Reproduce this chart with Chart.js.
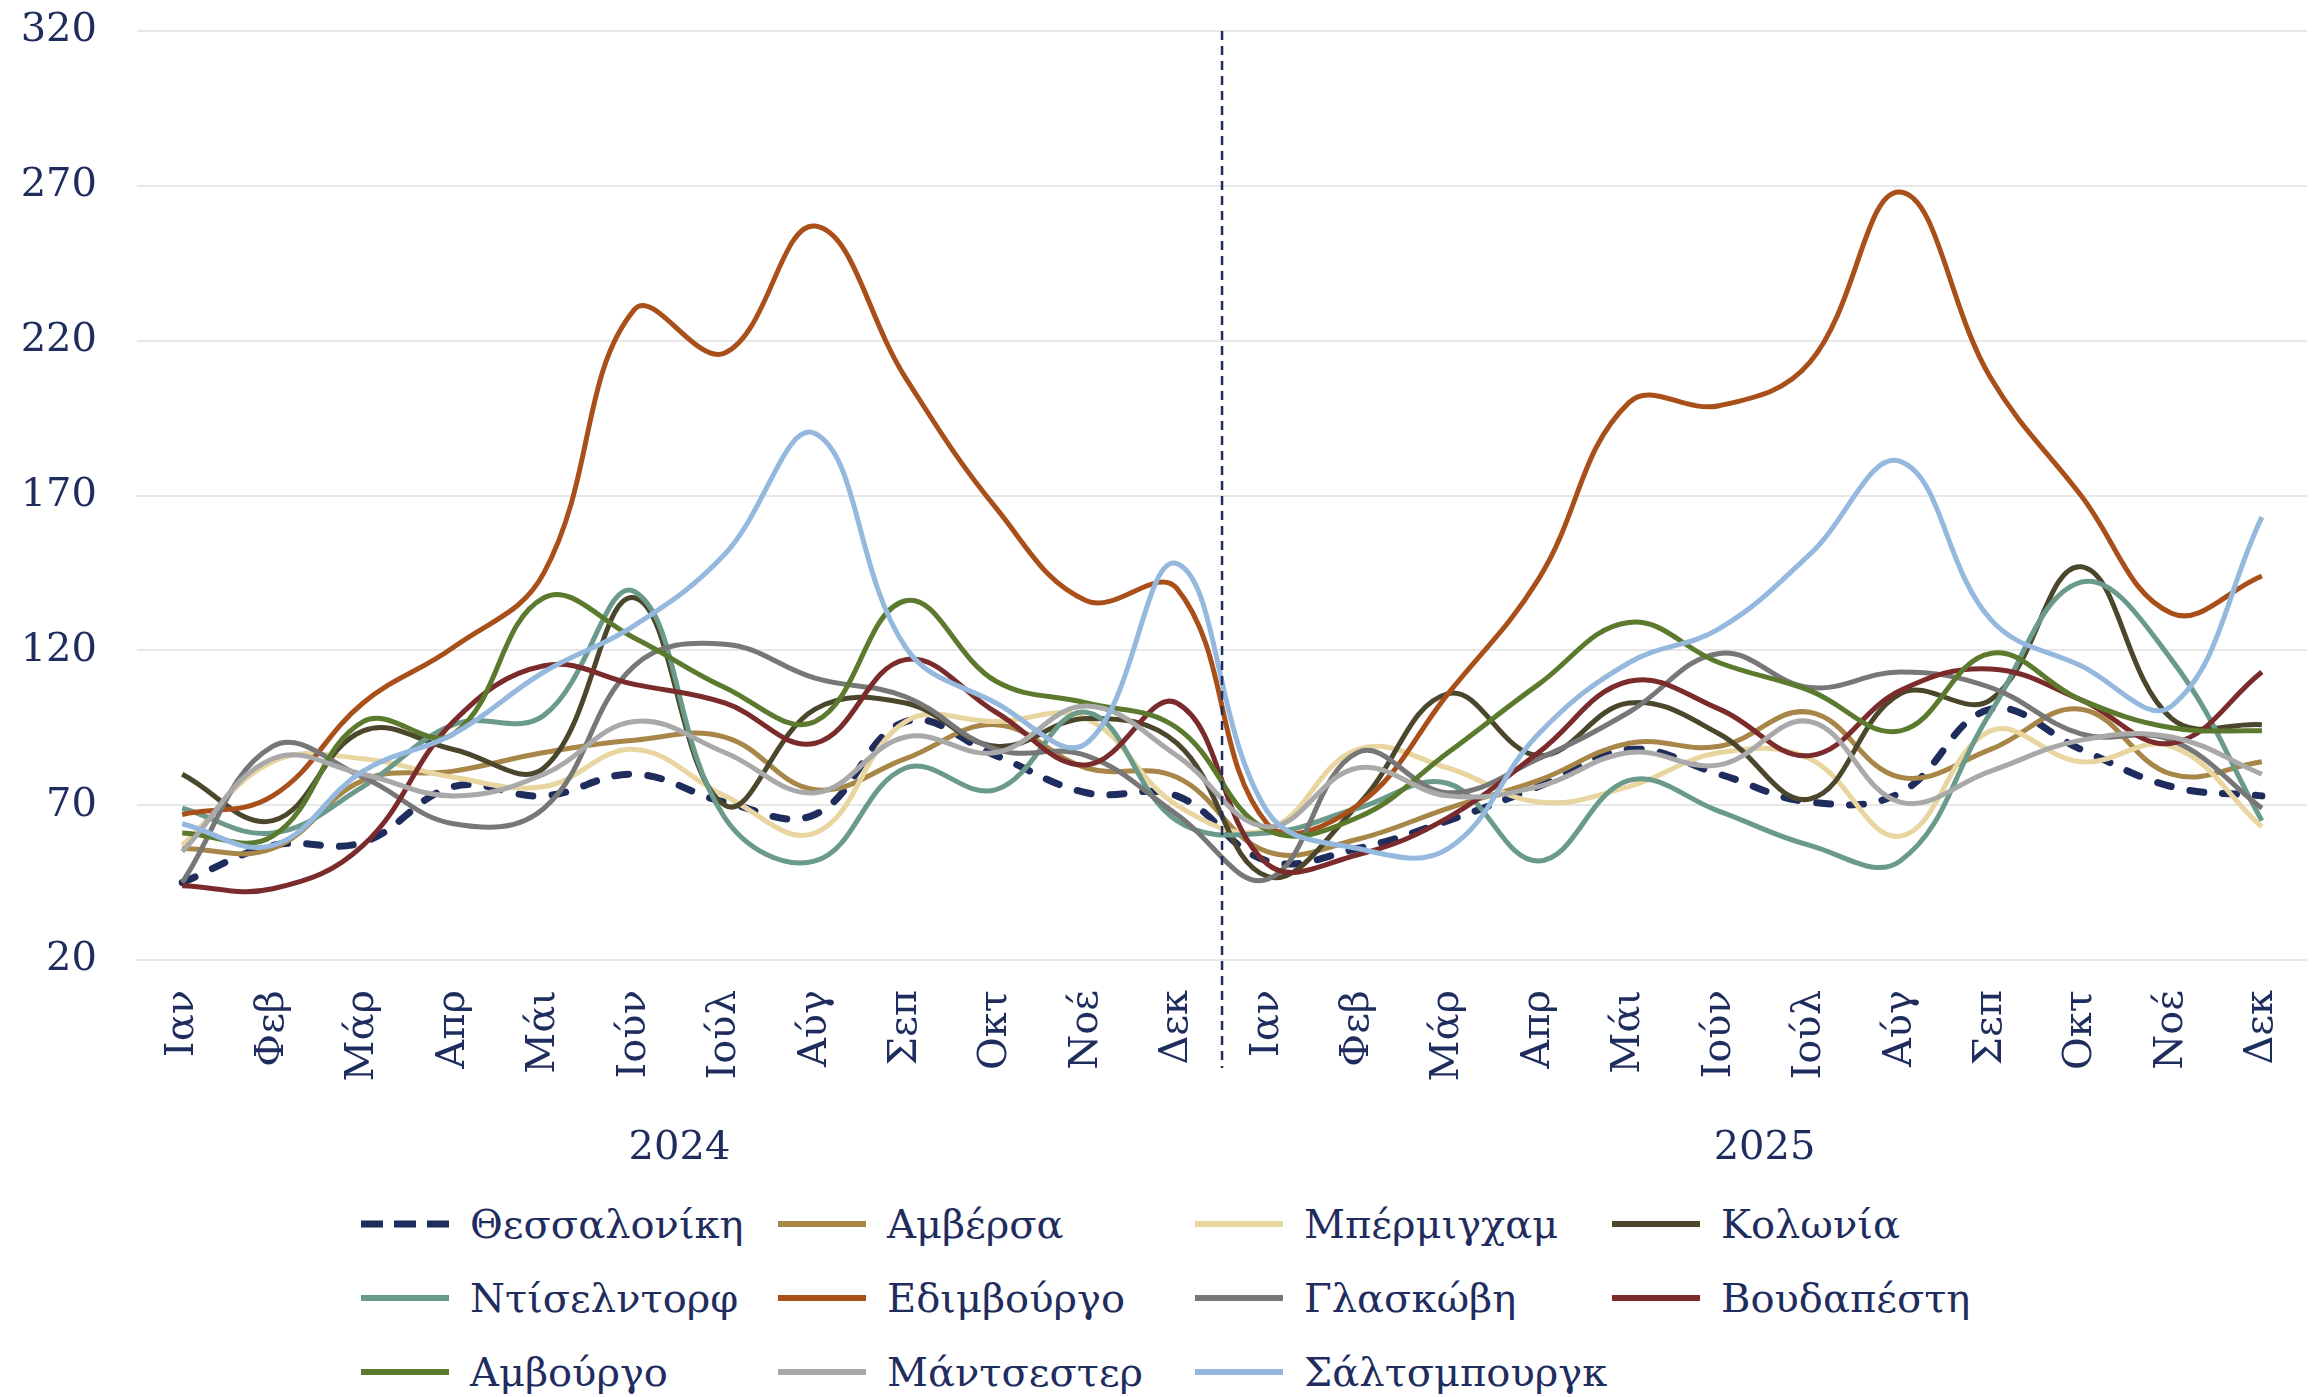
<!DOCTYPE html>
<html lang="el">
<head>
<meta charset="utf-8">
<title>Πόλεις 2024–2025</title>
<script src="https://cdn.jsdelivr.net/npm/chart.js@4.4.1/dist/chart.umd.min.js"></script>
<style>
  html, body { margin: 0; padding: 0; background: #fff; overflow: hidden; }
  body { width: 2313px; height: 1397px; position: relative; }
  #wrap { position: absolute; left: 0; top: -33px; width: 2340px; height: 1208px; }
  #legend {
    position: absolute; left: 361px; top: 1187px;
    display: grid; grid-template-columns: repeat(4, 417px); grid-auto-rows: 74px;
    font-family: 'DejaVu Serif', serif; font-size: 40px; color: #1f2d5e;
  }
  .item { display: flex; align-items: center; white-space: nowrap; }
  .item svg { margin-right: 21px; flex: none; }
</style>
</head>
<body>
<div id="wrap"><canvas id="chart"></canvas></div>
<div id="legend"></div>
<script>
// Month labels for two years (Jan 2024 – Dec 2025)
const months = ['Ιαν', 'Φεβ', 'Μάρ', 'Απρ', 'Μάι', 'Ιούν', 'Ιούλ', 'Αύγ', 'Σεπ', 'Οκτ', 'Νοέ', 'Δεκ',
                'Ιαν', 'Φεβ', 'Μάρ', 'Απρ', 'Μάι', 'Ιούν', 'Ιούλ', 'Αύγ', 'Σεπ', 'Οκτ', 'Νοέ', 'Δεκ'];
const years = ['2024', '2025'];
const yMin = 20;
const yMax = 320;
const yStep = 50;

// Monthly index per city
const thessaloniki = [45, 57, 58, 76, 73, 80, 71, 67, 97, 86, 74, 73, 52, 56, 65, 76, 88, 80, 71, 74, 101, 88, 76, 73];
const antwerp      = [56, 56, 78, 81, 87, 91, 92, 75, 85, 96, 82, 79, 55, 59, 69, 78, 90, 89, 100, 79, 88, 101, 80, 84];
const birmingham   = [57, 84, 85, 79, 76, 88, 73, 61, 97, 97, 98, 70, 62, 88, 82, 71, 76, 87, 85, 60, 94, 84, 89, 63];
const cologne      = [80, 65, 94, 88, 82, 137, 70, 101, 103, 89, 98, 90, 47, 70, 106, 86, 103, 93, 72, 106, 104, 147, 98, 96];
const dusseldorf   = [69, 61, 76, 96, 99, 139, 66, 52, 82, 75, 100, 65, 61, 69, 77, 52, 78, 68, 57, 52, 100, 142, 117, 65];
const edinburgh    = [67, 73, 103, 121, 145, 230, 216, 257, 208, 166, 136, 140, 64, 70, 106, 143, 200, 199, 213, 268, 208, 170, 132, 144];
const glasgow      = [45, 89, 79, 64, 69, 115, 122, 111, 105, 88, 86, 67, 46, 87, 74, 85, 100, 119, 108, 113, 108, 93, 91, 69];
const budapest     = [44, 43, 57, 97, 115, 109, 103, 90, 117, 100, 83, 103, 51, 54, 66, 87, 110, 101, 86, 107, 114, 104, 90, 113];
const hamburg      = [61, 60, 97, 93, 137, 124, 108, 97, 136, 110, 103, 95, 62, 66, 87, 109, 129, 116, 107, 94, 119, 104, 95, 94];
const manchester   = [55, 85, 80, 73, 80, 97, 87, 74, 92, 87, 102, 86, 63, 82, 73, 76, 87, 83, 97, 71, 81, 91, 92, 80];
const salzburg     = [64, 57, 81, 93, 113, 128, 151, 190, 121, 103, 90, 148, 68, 56, 56, 93, 116, 127, 151, 181, 130, 115, 102, 163];

const cities = ['Θεσσαλονίκη', 'Αμβέρσα', 'Μπέρμιγχαμ', 'Κολωνία', 'Ντίσελντορφ', 'Εδιμβούργο',
                'Γλασκώβη', 'Βουδαπέστη', 'Αμβούργο', 'Μάντσεστερ', 'Σάλτσμπουργκ'];
const series = [thessaloniki, antwerp, birmingham, cologne, dusseldorf, edinburgh,
                glasgow, budapest, hamburg, manchester, salzburg];
const colors = ['#1f2d5e', '#a78647', '#e8d5a0', '#4b472c', '#6a9b8a', '#a9501a',
                '#777777', '#7b2b2b', '#5b7a2e', '#a9a9a9', '#94b8de'];

const navy = '#1f2d5e';
const font = { family: "'DejaVu Serif', serif", size: 40 };

const datasets = series.map(function (values, i) {
  const dashed = i === 0;
  return {
    label: cities[i],
    data: values,
    borderColor: colors[i],
    backgroundColor: colors[i],
    borderWidth: dashed ? 7 : 5,
    borderDash: dashed ? [14, 19] : [],
    borderCapStyle: dashed ? 'round' : 'butt',
    pointRadius: 0,
    tension: 0.4,
    fill: false,
    // later cities sit on top of earlier ones
    order: series.length - i,
  };
});

// Dashed separator between December 2024 and January 2025
const yearDivider = {
  id: 'yearDivider',
  afterDatasetsDraw(chart) {
    const x = chart.scales.x;
    const px = (x.getPixelForValue(11) + x.getPixelForValue(12)) / 2;
    const ctx = chart.ctx;
    ctx.save();
    ctx.strokeStyle = navy;
    ctx.lineWidth = 2.5;
    ctx.setLineDash([9, 6]);
    ctx.beginPath();
    ctx.moveTo(px, chart.chartArea.top);
    ctx.lineTo(px, chart.chartArea.bottom + 108);
    ctx.stroke();
    ctx.restore();
  },
};

new Chart(document.getElementById('chart'), {
  type: 'line',
  data: { labels: months, datasets: datasets },
  options: {
    responsive: true,
    maintainAspectRatio: false,
    animation: false,
    layout: { padding: { left: 20, right: 6, top: 6, bottom: 8 } },
    plugins: {
      legend: { display: false },
      tooltip: { enabled: false },
    },
    scales: {
      x: {
        offset: true,
        afterFit: function (scale) { scale.height = 120; },
        grid: { display: false, drawTicks: false },
        border: { display: false },
        ticks: {
          autoSkip: false,
          minRotation: 90,
          maxRotation: 90,
          padding: 30,
          color: navy,
          font: font,
        },
      },
      x2: {
        type: 'category',
        labels: years,
        position: 'bottom',
        offset: true,
        afterFit: function (scale) { scale.height = 87; },
        grid: { display: false, drawTicks: false },
        border: { display: false },
        ticks: { maxRotation: 0, padding: 45, color: navy, font: font },
      },
      y: {
        min: yMin,
        max: yMax,
        afterFit: function (scale) { scale.width = 117; },
        grid: { color: '#e7e7e7', lineWidth: 2, drawTicks: false },
        border: { display: false },
        ticks: { stepSize: yStep, padding: 40, color: navy, font: font },
      },
    },
  },
  plugins: [yearDivider],
});

// Legend laid out in four aligned columns
const legend = document.getElementById('legend');
cities.forEach(function (name, i) {
  const item = document.createElement('div');
  item.className = 'item';
  const dash = i === 0 ? ' stroke-dasharray="22 11"' : '';
  item.innerHTML =
    '<svg width="88" height="12"><line x1="0" y1="6" x2="88" y2="6" stroke="' + colors[i] +
    '" stroke-width="' + (i === 0 ? 7 : 6) + '"' + dash + '/></svg><span>' + name + '</span>';
  legend.appendChild(item);
});
</script>
</body>
</html>
